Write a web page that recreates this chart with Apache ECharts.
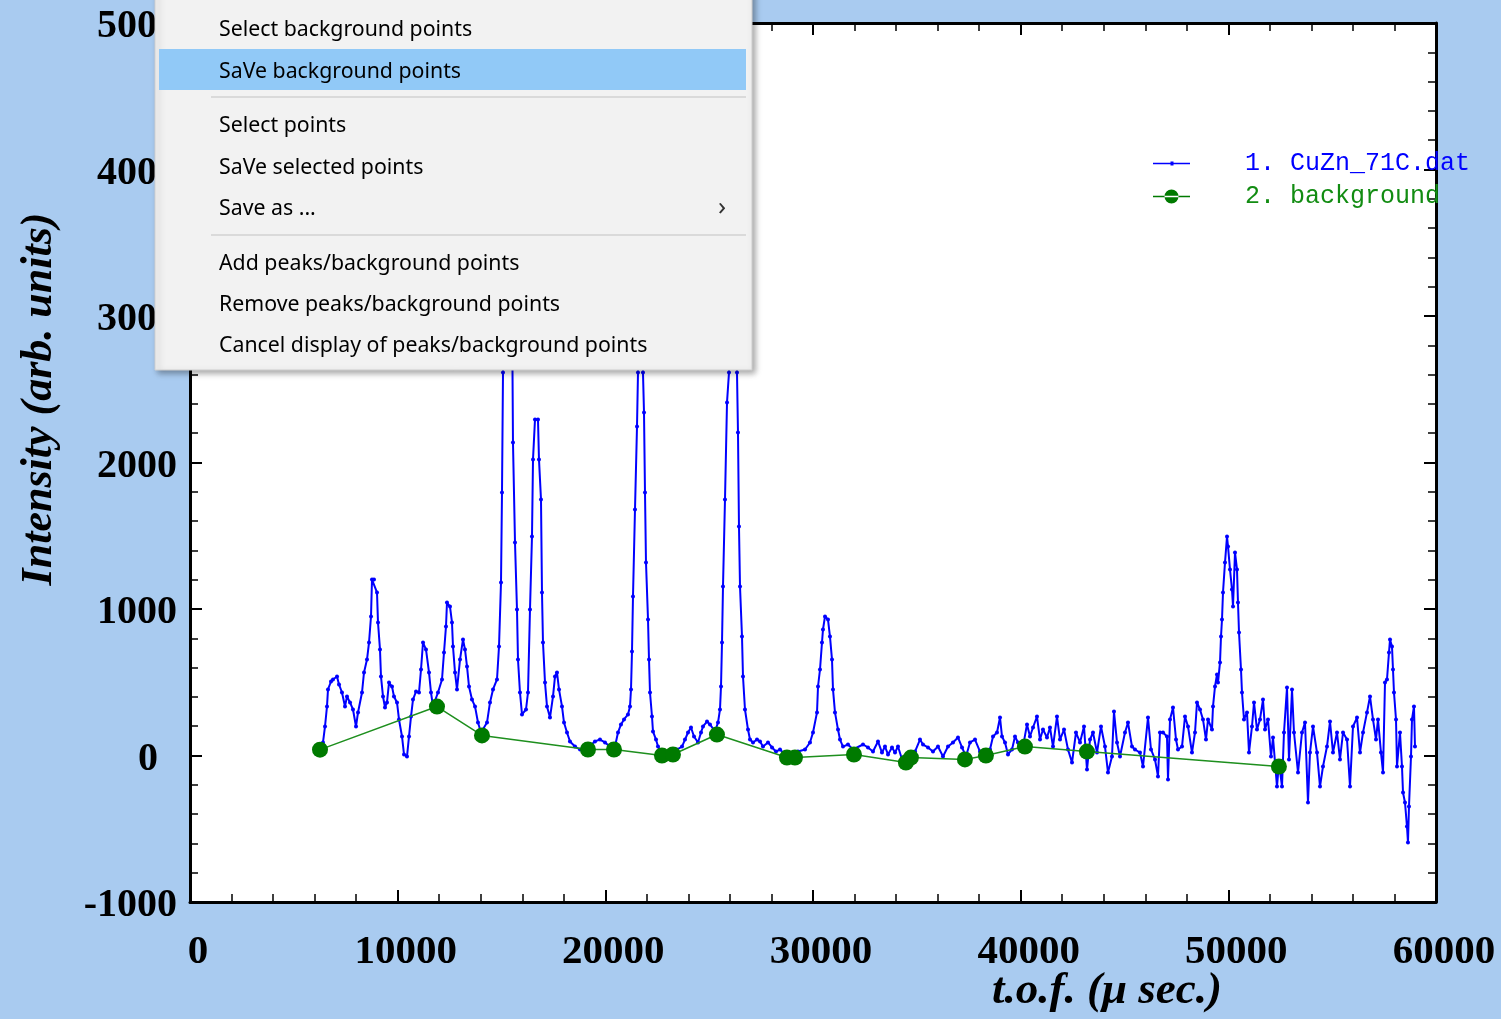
<!DOCTYPE html>
<html><head><meta charset="utf-8">
<script src="https://cdn.jsdelivr.net/npm/echarts@6/dist/echarts.min.js"></script>
<style>html,body{margin:0;padding:0;background:#A9CBF0;}#c{width:1501px;height:1019px;}</style>
</head><body><div id="c"></div>
<script>
// ---- data ----
const seriesNames = ['1. CuZn_71C.dat', '2. background'];
const tofUs = [
6308,6404,6501,6597,6645,6790,6886,7079,7175,7319,7464,7560,7705,7849,7994,8090,8283,8379,8523,8620,
8716,8764,8860,9005,9053,9149,9197,9294,9390,9486,9583,9727,9823,9968,10064,10209,10305,10449,10546,10642,
10738,10883,11027,11124,11220,11364,11509,11605,11701,11942,12135,12231,12327,12375,12520,12616,12664,12761,12857,13002,
13146,13242,13339,13435,13579,13724,13868,14013,14302,14446,14591,14783,14880,14976,15024,15072,15168,15313,15457,15553,
15650,15746,15794,15890,15987,16180,16276,16372,16468,16517,16613,16757,16805,16902,16950,16998,17095,17191,17335,17480,
17576,17672,17769,17913,18010,18154,18298,18539,18780,19021,19502,19743,19984,20225,20465,20610,20754,20899,21091,21188,
21236,21284,21332,21428,21525,21573,21621,21669,21717,21813,21862,21910,21958,22055,22103,22151,22247,22295,22440,22536,
22729,23114,23451,23692,23836,23981,24125,24270,24462,24607,24703,24896,25040,25281,25425,25521,25570,25618,25666,25762,
25859,25955,26051,26148,26244,26340,26388,26436,26485,26581,26629,26725,26870,26966,27111,27303,27448,27592,27833,28026,
28218,28411,28652,28989,29278,29615,29855,30000,30193,30241,30337,30433,30481,30578,30722,30818,30915,30963,31059,31204,
31300,31445,31685,31926,32408,32648,32889,33130,33322,33467,33612,33804,33949,34093,34334,34671,34912,35152,35297,35538,
35778,36019,36260,36501,36741,36982,37175,37367,37560,37801,38042,38282,38523,38668,38860,39005,39101,39246,39390,39583,
39727,39871,40112,40305,40449,40594,40786,40931,41075,41268,41412,41557,41749,41894,42087,42279,42472,42664,42857,43050,
43194,43339,43483,43676,43868,44061,44205,44398,44494,44639,44783,45024,45168,45361,45505,45746,45891,46131,46276,46469,
46613,46709,46854,47046,47095,47191,47335,47480,47576,47769,47913,48058,48250,48395,48491,48636,48780,48924,49021,49213,
49262,49358,49454,49502,49599,49647,49695,49743,49839,49936,49984,50080,50176,50225,50321,50417,50465,50514,50610,50658,
50754,50899,50995,51139,51236,51380,51525,51669,51766,51910,52054,52151,52343,52440,52584,52680,52825,52921,53066,53162,
53355,53547,53692,53836,53932,54077,54270,54414,54558,54751,54896,55040,55233,55377,55522,55715,55859,56003,56196,56340,
56485,56677,56822,56966,57111,57207,57351,57448,57544,57640,57736,57785,57881,57929,57977,58074,58122,58266,58362,58411,
58507,58603,58651,58699,58796,58844,58940,58988
];
const intensity = [
48,89,198,335,451,505,519,539,485,430,335,403,362,314,198,294,430,567,655,771,
949,1201,1201,1113,908,724,539,403,328,362,498,471,403,362,246,130,7,-7,130,266,
382,437,430,587,771,724,567,430,335,430,519,703,881,1044,1017,908,744,567,451,655,
792,724,608,471,382,335,225,157,225,362,451,519,744,1181,1795,2614,4000,5400,4200,2137,
1454,997,655,430,280,314,430,997,1495,2021,2294,2294,2021,1747,1113,771,498,335,259,403,
539,567,451,335,225,157,96,61,41,41,96,109,89,61,61,157,212,246,280,335,
451,710,1085,1679,2246,2614,3800,5200,4100,2614,2341,1795,1317,928,655,430,266,164,109,61,
7,27,41,61,109,157,191,130,89,157,198,232,212,164,225,314,471,771,1154,1747,
2410,2614,4300,5300,4000,2614,2205,1563,1154,812,539,314,177,109,89,109,96,61,89,55,
27,41,7,-7,27,41,89,157,294,471,587,771,860,949,928,812,655,451,294,177,
109,61,75,41,75,55,27,96,20,61,7,55,20,61,-48,-7,27,109,75,55,
27,61,-7,61,89,123,55,-7,89,109,27,-7,41,130,157,259,130,89,7,41,
130,89,61,212,130,191,266,109,177,123,191,61,266,109,177,41,-48,157,89,198,
-96,109,157,20,198,61,-116,-7,300,89,-7,157,225,61,41,20,-75,259,41,-27,
-143,157,157,130,-164,246,328,109,41,61,266,198,20,157,362,314,246,109,246,177,
335,471,553,498,635,812,928,1113,1317,1495,1427,1270,1133,1017,1386,1270,1044,840,587,430,
246,294,20,198,362,177,246,382,177,246,-7,123,-212,-48,-212,157,464,-27,451,157,
-116,157,225,-321,20,198,20,-212,-75,61,232,20,157,-27,157,109,-212,198,259,20,
157,294,403,246,109,246,20,-116,498,519,703,792,744,587,430,246,-75,157,-75,-253,
-321,-485,-594,-348,-7,246,335,61
];
const bgTof = [6260,11893,14060,19164,20416,22727,23256,25375,28746,29131,31972,34475,34716,37316,38327,40205,43191,52435];
const bgIntensity = [40,334,137,41,41,0,7,143,-14,-14,7,-48,-14,-27,0,61,27,-75];
const menuItems = ['Select background points','SaVe background points','Select points','SaVe selected points','Save as ...','Add peaks/background points','Remove peaks/background points','Cancel display of peaks/background points'];
const menuItemY = [30,72,126,168,209,264,305,346];
const xTitle = 't.o.f. (\u03bc sec.)';
const yTitle = 'Intensity (arb. units)';

const blueData = tofUs.map((x, i) => [x, intensity[i]]);
const bgData = bgTof.map((x, i) => [x, bgIntensity[i]]);

const chart = echarts.init(document.getElementById('c'), null, {renderer: 'canvas'});
const serif = 'Liberation Serif';
const axisCommon = {
  type: 'value', scale: false,
  axisLine: {show: true, onZero: false, lineStyle: {color: '#000', width: 3}},
  axisTick: {show: true, inside: true, length: 12, lineStyle: {color: '#000', width: 2}},
  minorTick: {show: true, splitNumber: 5, length: 8, lineStyle: {color: '#000', width: 1.5}},
  splitLine: {show: false}, minorSplitLine: {show: false}
};
const xCommon = Object.assign({}, axisCommon, {min: 0, max: 60000, interval: 10000});
const yCommon = Object.assign({}, axisCommon, {min: -1000, max: 5000, interval: 1000});

const menuChildren = [
  {type: 'rect', zlevel: 5, z: 100, shape: {x: 155, y: -20, width: 597, height: 390},
   style: {fill: '#F2F2F2', stroke: '#CFCFCF', lineWidth: 1, shadowBlur: 6, shadowOffsetX: 3, shadowOffsetY: 3, shadowColor: 'rgba(0,0,0,0.35)'}},
  {type: 'rect', zlevel: 5, z: 101, shape: {x: 159, y: 49, width: 587, height: 41}, style: {fill: '#91C9F7'}},
  {type: 'rect', zlevel: 5, z: 101, shape: {x: 211, y: 96, width: 535, height: 2}, style: {fill: '#DADADA'}},
  {type: 'rect', zlevel: 5, z: 101, shape: {x: 211, y: 234, width: 535, height: 2}, style: {fill: '#DADADA'}},
  {type: 'text', zlevel: 5, z: 102, x: 718, y: 208, style: {text: '\u203a', fill: '#333', font: '26px "Noto Sans"', textVerticalAlign: 'middle'}}
];
menuItems.forEach((t, i) => {
  menuChildren.push({type: 'text', zlevel: 5, z: 102, x: 219, y: menuItemY[i],
    style: {text: t, fill: '#000', font: '21.3px "Noto Sans"', textVerticalAlign: 'middle'}});
});

const option = {
  backgroundColor: '#A9CBF0',
  animation: false,
  grid: {left: 190, right: 65, top: 23, bottom: 117, show: true, backgroundColor: '#fff', borderWidth: 0},
  legend: {
    orient: 'vertical', left: 1153, top: 151, padding: 0, itemWidth: 37, itemHeight: 14, itemGap: 8,
    selectedMode: false, symbolKeepAspect: true,
    textStyle: {fontFamily: 'Liberation Mono', fontSize: 25, padding: [0, 0, 0, 50]},
    data: [
      {name: seriesNames[0], icon: 'path://M0,6.2h37v1.6H0z M17.5,5h3v4h-3z', textStyle: {color: '#0000FF'}},
      {name: seriesNames[1], icon: 'path://M0,6.2h37v1.6H0z M11.5,7a7,7 0 1,0 14,0a7,7 0 1,0 -14,0z', textStyle: {color: '#128C12'}}
    ]
  },
  xAxis: [
    Object.assign({}, xCommon, {position: 'bottom',
      axisLabel: {show: true, color: '#000', fontFamily: serif, fontWeight: 'bold', fontSize: 41, margin: 30, padding: [0, 0, 0, 16],
        formatter: v => String(v)}}),
    Object.assign({}, xCommon, {position: 'top', axisLabel: {show: false}})
  ],
  yAxis: [
    Object.assign({}, yCommon, {position: 'left',
      axisLabel: {show: true, color: '#000', fontFamily: serif, fontWeight: 'bold', fontSize: 40, margin: 13, padding: [8, 0, 0, 0],
        formatter: v => v === 0 ? '{z|0}' : String(v),
        rich: {z: {fontFamily: serif, fontWeight: 'bold', fontSize: 40, color: '#000', padding: [0, 19, 0, 0]}}}}),
    Object.assign({}, yCommon, {position: 'right', axisLabel: {show: false}})
  ],
  series: [
    {name: seriesNames[0], type: 'line', data: blueData, xAxisIndex: 0, yAxisIndex: 0,
     color: '#0000FF', lineStyle: {color: '#0000FF', width: 2}, symbol: 'circle', symbolSize: 4, showSymbol: true, showAllSymbol: true,
     itemStyle: {color: '#0000FF'}, clip: true, z: 2},
    {name: seriesNames[1], type: 'line', data: bgData, xAxisIndex: 0, yAxisIndex: 0,
     color: '#007A00', lineStyle: {color: '#1E8F1E', width: 1.5}, symbol: 'circle', symbolSize: 16,
     itemStyle: {color: '#007A00'}, clip: true, z: 3}
  ],
  graphic: [
    {type: 'text', x: 40, y: 399, rotation: Math.PI / 2, z: 10,
     style: {text: yTitle, fill: '#000', font: 'italic bold 44px "Liberation Serif"', textAlign: 'center', textVerticalAlign: 'middle'}},
    {type: 'text', x: 1107, y: 991, z: 10,
     style: {text: xTitle, fill: '#000', font: 'italic bold 45px "Liberation Serif"', textAlign: 'center', textVerticalAlign: 'middle'}},
    {type: 'group', zlevel: 5, z: 100, children: menuChildren}
  ]
};
chart.setOption(option);
</script>
</body></html>
